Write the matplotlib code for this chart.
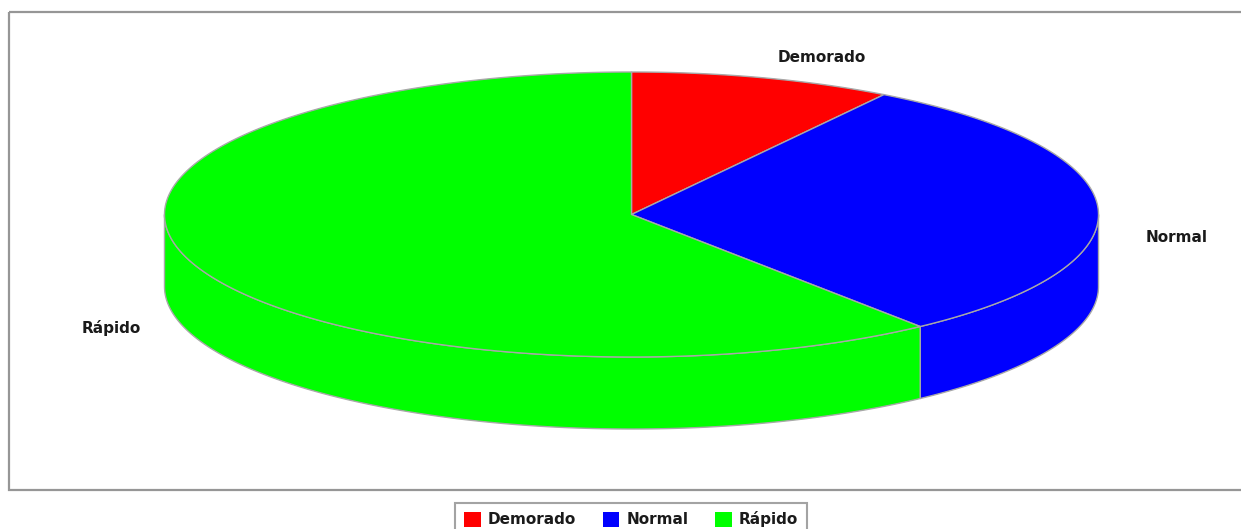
import numpy as np
import matplotlib.pyplot as plt
from matplotlib.patches import Polygon, Rectangle, Patch

# data
labels = ['Demorado', 'Normal', 'Rápido']
values = [3, 10, 20]
colors = ['#ff0000', '#0000ff', '#00ff00']

# pie geometry in pixel units of the figure
W, H = 1241, 529
cx, cy = 631.5, 214.5
rx, ry = 467.0, 142.5
depth = 72.0
edge = '#a8a8a8'


def arc(t1, t2, n=200, dy=0.0):
    t = np.radians(np.linspace(t1, t2, n))
    return np.column_stack([cx + rx * np.cos(t), cy - ry * np.sin(t) + dy])


fig = plt.figure(figsize=(W / 100, H / 100), dpi=100)
ax = fig.add_axes([0, 0, 1, 1])
ax.set_xlim(0, W)
ax.set_ylim(H, 0)
ax.axis('off')

# plot border
ax.add_patch(Rectangle((8.5, 11.5), W, 478.5, fill=False,
                       edgecolor='#969696', lw=1.6))

fractions = np.array(values, dtype=float) / sum(values)
ends = 90 - 360 * np.cumsum(fractions)
starts = np.concatenate([[90], ends[:-1]])

# sides (front half only)
for s, e, c in zip(starts, ends, colors):
    for shift in (-360, 0, 360):
        lo = max(e + shift, -180)
        hi = min(s + shift, 0)
        if hi <= lo:
            continue
        top = arc(lo, hi)
        bottom = arc(hi, lo, dy=depth)
        ax.add_patch(Polygon(np.vstack([top, bottom]), closed=True,
                             facecolor=c, edgecolor=edge, lw=1.0))

# top of the pie
for s, e, c in zip(starts, ends, colors):
    pts = np.vstack([[cx, cy], arc(s, e)])
    ax.add_patch(Polygon(pts, closed=True, facecolor=c,
                         edgecolor=edge, lw=1.0))

# slice labels
label_font = dict(family='DejaVu Sans', size=11, weight='bold', color='#1a1a1a')
label_pos = [(822, 57), (1177, 238), (111, 328)]
for name, (lx, ly) in zip(labels, label_pos):
    ax.text(lx, ly, name, ha='center', va='center', **label_font)

# legend
handles = [Patch(facecolor=c, edgecolor='none', label=n)
           for n, c in zip(labels, colors)]
leg = fig.legend(handles=handles, loc='upper center', ncol=3,
                 bbox_to_anchor=(631 / W, 1 - 503 / H),
                 frameon=True, fancybox=False, edgecolor='#8c8c8c',
                 prop=dict(family='DejaVu Sans', size=11, weight='bold'),
                 handlelength=1.1, handleheight=1.1, handletextpad=0.46,
                 columnspacing=1.75, borderpad=0.55, borderaxespad=0)
leg.get_frame().set_linewidth(1.5)
for t in leg.get_texts():
    t.set_color('#1a1a1a')

fig.savefig('out.png', dpi=100)
